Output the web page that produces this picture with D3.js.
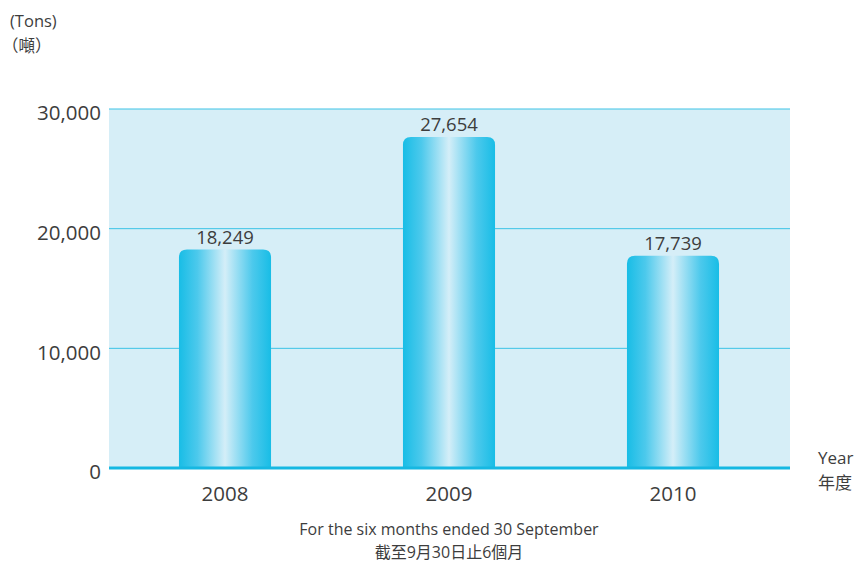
<!DOCTYPE html>
<html>
<head>
<meta charset="utf-8">
<script src="https://cdn.jsdelivr.net/npm/d3@7"></script>
<style>
  body { margin: 0; background: #fff; }
  text { font-family: "Open Sans", "Noto Sans", "Noto Sans CJK TC", sans-serif; fill: #3d3d3d; }
</style>
</head>
<body>
<svg id="chart" width="855" height="563"></svg>
<script>
// Data
const years = ["2008", "2009", "2010"];
const tons = [18249, 27654, 17739];
const yTicks = [0, 10000, 20000, 30000];

const svg = d3.select("#chart");
const plot = { left: 109, right: 790, top: 109, bottom: 468 };

const x = d3.scaleBand()
  .domain(years)
  .range([113, 785])
  .paddingInner(0.589)
  .paddingOuter(0.2945);

const y = d3.scaleLinear()
  .domain([0, 30000])
  .range([plot.bottom, plot.top]);

// Gradient for bars
const grad = svg.append("defs").append("linearGradient")
  .attr("id", "barGrad")
  .attr("x1", "0%").attr("x2", "100%").attr("y1", "0%").attr("y2", "0%");
grad.append("stop").attr("offset", "0%").attr("stop-color", "#18bde6");
grad.append("stop").attr("offset", "20%").attr("stop-color", "#4cc9ec");
grad.append("stop").attr("offset", "50%").attr("stop-color", "#d4eef8");
grad.append("stop").attr("offset", "80%").attr("stop-color", "#4cc9ec");
grad.append("stop").attr("offset", "100%").attr("stop-color", "#18bde6");

// Plot background
svg.append("rect")
  .attr("x", plot.left)
  .attr("y", plot.top)
  .attr("width", plot.right - plot.left)
  .attr("height", plot.bottom - plot.top)
  .attr("fill", "#d6eef7");

// Gridlines
svg.append("g")
  .selectAll("line")
  .data(yTicks.filter(d => d > 0))
  .join("line")
  .attr("x1", plot.left)
  .attr("x2", plot.right)
  .attr("y1", d => y(d))
  .attr("y2", d => y(d))
  .attr("stroke", "#3cc3e6")
  .attr("stroke-width", 1);

// Y tick labels
svg.append("g")
  .selectAll("text")
  .data(yTicks)
  .join("text")
  .attr("x", 101)
  .attr("y", d => y(d) + 4)
  .attr("dy", "0.35em")
  .attr("text-anchor", "end")
  .attr("font-size", "20.5px")
  .text(d => d3.format(",")(d));

// Bars with rounded tops
const r = 8;
function barPath(x0, w, top, bottom) {
  return `M${x0},${bottom}V${top + r}Q${x0},${top} ${x0 + r},${top}H${x0 + w - r}Q${x0 + w},${top} ${x0 + w},${top + r}V${bottom}Z`;
}

svg.append("g")
  .selectAll("path")
  .data(years)
  .join("path")
  .attr("d", (d, i) => barPath(x(d), x.bandwidth(), y(tons[i]), y(0)))
  .attr("fill", "url(#barGrad)");

// Value labels
svg.append("g")
  .selectAll("text")
  .data(years)
  .join("text")
  .attr("x", d => x(d) + x.bandwidth() / 2)
  .attr("y", (d, i) => y(tons[i]) - 6)
  .attr("text-anchor", "middle")
  .attr("font-size", "18.5px")
  .text((d, i) => d3.format(",")(tons[i]));

// Zero baseline
svg.append("line")
  .attr("x1", plot.left)
  .attr("x2", plot.right)
  .attr("y1", y(0))
  .attr("y2", y(0))
  .attr("stroke", "#16b8e2")
  .attr("stroke-width", 3);

// X labels
svg.append("g")
  .selectAll("text")
  .data(years)
  .join("text")
  .attr("x", d => x(d) + x.bandwidth() / 2)
  .attr("y", 501)
  .attr("text-anchor", "middle")
  .attr("font-size", "20.5px")
  .text(d => d);

// Unit labels
svg.append("text").attr("x", 10).attr("y", 27).attr("font-size", "16.5px").text("(Tons)");
svg.append("text").attr("x", 2).attr("y", 52).attr("font-size", "16.5px").text("（噸）");

svg.append("text").attr("x", 818).attr("y", 464).attr("font-size", "17px").text("Year");
svg.append("text").attr("x", 818).attr("y", 489).attr("font-size", "17px").text("年度");

// Caption
svg.append("text").attr("x", 449).attr("y", 535).attr("text-anchor", "middle")
  .attr("font-size", "16px").text("For the six months ended 30 September");
svg.append("text").attr("x", 449).attr("y", 558).attr("text-anchor", "middle")
  .attr("font-size", "16px").text("截至9月30日止6個月");
</script>
</body>
</html>
